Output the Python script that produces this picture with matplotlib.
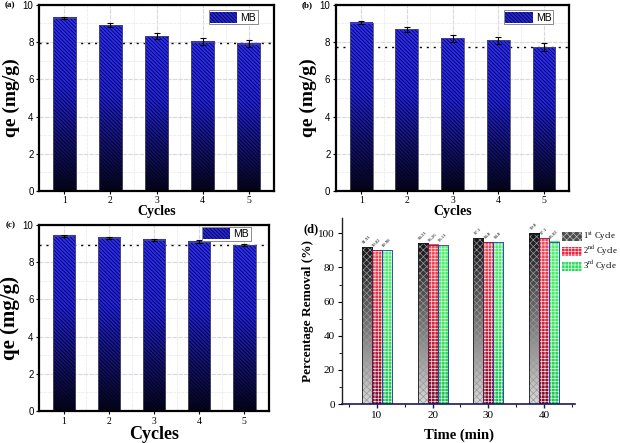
import numpy as np
import matplotlib
matplotlib.use("Agg")
import matplotlib.pyplot as plt
from matplotlib.colors import LinearSegmentedColormap
from matplotlib.patches import Patch

plt.rcParams['mathtext.fontset'] = 'stix'

# ---------------- data ----------------
cycles = [1, 2, 3, 4, 5]
qe_a = [9.30, 8.90, 8.32, 8.03, 7.92]
err_a = [0.06, 0.10, 0.16, 0.18, 0.20]
base_a = 7.93
qe_b = [9.05, 8.68, 8.20, 8.10, 7.72]
err_b = [0.08, 0.12, 0.18, 0.18, 0.22]
base_b = 7.74
qe_c = [9.42, 9.30, 9.20, 9.10, 8.92]
err_c = [0.04, 0.06, 0.07, 0.07, 0.07]
base_c = 8.93

times = [10, 20, 30, 40]
cycle_names = ["1$^{\\rm st}$ Cycle", "2$^{\\rm nd}$ Cycle", "3$^{\\rm rd}$ Cycle"]
rem1 = [91.91, 94.21, 97.1, 99.8]
rem2 = [90.02, 93.26, 94.8, 97.1]
rem3 = [89.98, 93.11, 94.8, 95.02]
lab1 = ["91.91", "94.21", "97.1", "99.8"]
lab2 = ["90.02", "93.26", "94.8", "97.1"]
lab3 = ["89.98", "93.11", "94.8", "95.02"]

SERIF = 'Liberation Serif'
SANS = 'Liberation Sans'
HATCH_B = '\\' * 9

fig = plt.figure(figsize=(6.2, 4.43), dpi=100)

blue_cmap = LinearSegmentedColormap.from_list(
    'bl', [(0.0, (0.02, 0.02, 0.08)), (0.3, (0.08, 0.08, 0.45)),
           (0.6, (0.14, 0.14, 0.9)), (1.0, (0.18, 0.18, 1.0))])


def grad_bar(ax, x, h, w, cmap, hatch, hatch_color, edge, z=2, hlw=0.6):
    grad = np.linspace(0, 1, 256).reshape(-1, 1)
    ax.imshow(grad, extent=[x - w / 2, x + w / 2, 0, h], origin='lower',
              cmap=cmap, aspect='auto', zorder=z, interpolation='bilinear')
    plt.rcParams['hatch.linewidth'] = hlw
    ax.bar(x, h, w, facecolor='none', edgecolor=hatch_color, hatch=hatch,
           linewidth=0, zorder=z + 0.1)
    ax.bar(x, h, w, facecolor='none', edgecolor=edge, linewidth=0.6,
           zorder=z + 0.2)


def qe_panel(rect, vals, errs, base, letter, lab_size, xlab_size, leg_anchor):
    ax = fig.add_axes(rect)
    ax.set_xlim(0.45, 5.55)
    ax.set_ylim(0, 10)
    for x, v in zip(cycles, vals):
        grad_bar(ax, x, v, 0.5, blue_cmap, HATCH_B, (0.0, 0.0, 0.12), (0.3, 0.3, 0.4), hlw=0.5)
    ax.errorbar(cycles, vals, yerr=errs, fmt='none', ecolor='black',
                elinewidth=0.8, capsize=2.2, capthick=0.8, zorder=5)
    ax.axhline(base, color='black', ls=(0, (1.5, 3.5)), lw=1.0, zorder=1)
    ax.set_yticks([0, 2, 4, 6, 8, 10])
    ax.set_xticks(cycles)
    ax.set_xticks([1.5, 2.5, 3.5, 4.5], minor=True)
    ax.set_yticks([1, 3, 5, 7, 9], minor=True)
    ax.grid(True, which='major', color='#d9d9d9', lw=0.8, ls=(0, (4, 1)), zorder=0)
    ax.grid(True, which='minor', color='#ececec', lw=0.6, ls=(0, (4, 1)), zorder=0)
    ax.set_axisbelow(True)
    ax.tick_params(axis='y', labelsize=7, length=2, width=0.8, direction='out', pad=2)
    ax.tick_params(axis='x', labelsize=7, length=2, width=0.8, direction='out', pad=2)
    ax.tick_params(which='minor', length=0)
    for t in ax.get_yticklabels():
        t.set_fontfamily(SANS)
    for t in ax.get_xticklabels():
        t.set_fontfamily(SERIF)
    for s in ax.spines.values():
        s.set_linewidth(1.6)
    ax.set_ylabel('qe (mg/g)', fontfamily=SERIF, fontweight='bold',
                  fontsize=lab_size, labelpad=2)
    ax.set_xlabel('Cycles', fontfamily=SERIF, fontweight='bold',
                  fontsize=xlab_size, labelpad=0)
    ax.text(-0.1, 1.0, letter, transform=ax.transAxes, fontfamily=SERIF,
            fontweight='bold', fontsize=6.5, ha='right', va='center')
    h = Patch(facecolor=(0.15, 0.15, 0.85), edgecolor=(0.0, 0.0, 0.12),
              hatch=HATCH_B, lw=0)
    leg = ax.legend([h], ['MB'], loc='upper right',
                    prop={'family': SANS, 'size': 7.5}, handlelength=2.6,
                    handleheight=1.2, borderpad=0.15, handletextpad=0.3,
                    fancybox=False, framealpha=1, edgecolor='#777777',
                    bbox_to_anchor=leg_anchor, borderaxespad=0)
    leg.get_frame().set_linewidth(0.6)
    return ax


qe_panel([0.063, 0.569, 0.379, 0.42], qe_a, err_a, base_a, '(a)', 14, 10, (0.93, 0.97))
qe_panel([0.542, 0.569, 0.376, 0.42], qe_b, err_b, base_b, '(b)', 14, 10, (0.93, 0.97))
qe_panel([0.063, 0.072, 0.371, 0.42], qe_c, err_c, base_c, '(c)', 15, 13, (0.92, 0.99))

# ---------------- panel d ----------------
axd = fig.add_axes([0.5516, 0.088, 0.376, 0.42])
axd.set_xlim(3.7, 45.6)
axd.set_ylim(0, 109)
cm1 = LinearSegmentedColormap.from_list('g1', [(0.85, 0.85, 0.85), (0.45, 0.45, 0.45), (0.08, 0.08, 0.1)])
cm2 = LinearSegmentedColormap.from_list('g2', [(0.45, 0.05, 0.2), (0.8, 0.15, 0.25), (0.95, 0.3, 0.35)])
cm3 = LinearSegmentedColormap.from_list('g3', [(0.1, 0.75, 0.35), (0.25, 0.9, 0.4), (0.3, 0.95, 0.45)])
bw = 1.8
series = [(rem1, lab1, cm1, 'xxxxx', (0.6, 0.6, 0.6), (0.1, 0.1, 0.1)),
          (rem2, lab2, cm2, '+++++', (1.0, 0.85, 0.85), (0.4, 0.1, 0.3)),
          (rem3, lab3, cm3, '+++++', (0.85, 1.0, 0.85), (0.2, 0.2, 0.8))]
for i, (vals, labs, cm, hatch, hc, ec) in enumerate(series):
    off = (i - 1) * bw
    for t, v, lb in zip(times, vals, labs):
        grad_bar(axd, t + off, v, bw, cm, hatch, hc, ec, z=2, hlw=0.5)
        axd.text(t + off, v + 1.5, lb, rotation=45, fontsize=3.4,
                 fontfamily=SERIF, ha='center', va='bottom', zorder=6)
axd.set_xticks(times)
axd.set_xticks([5, 15, 25, 35, 45], minor=True)
axd.set_yticks([0, 20, 40, 60, 80, 100])
axd.set_yticks([10, 30, 50, 70, 90], minor=True)
for s in ['top', 'right']:
    axd.spines[s].set_visible(False)
axd.spines['bottom'].set_color('#1a1a5a')
axd.spines['bottom'].set_linewidth(1.2)
axd.spines['left'].set_color('#222222')
axd.spines['left'].set_linewidth(1.0)
axd.tick_params(axis='x', labelsize=8, length=3, width=1, color='#1a1a5a', pad=2)
axd.tick_params(axis='x', which='minor', length=2, width=0.8, color='#1a1a5a')
axd.tick_params(axis='y', labelsize=8, length=3, width=0.8, pad=2)
axd.tick_params(axis='y', which='minor', length=2, width=0.6)
for t in axd.get_xticklabels() + axd.get_yticklabels():
    t.set_fontfamily(SERIF)
axd.set_ylabel('Percentage Removal (%)', fontfamily=SERIF, fontweight='bold',
               fontsize=9.5, labelpad=3)
axd.set_xlabel('Time (min)', fontfamily=SERIF, fontweight='bold',
               fontsize=10.5, labelpad=6)
axd.text(-0.165, 0.94, '(d)', transform=axd.transAxes, fontfamily=SERIF,
         fontweight='bold', fontsize=9, ha='left', va='center')

handles = [Patch(facecolor=(0.3, 0.3, 0.3), edgecolor=(0.75, 0.75, 0.75), hatch='xxxxx', lw=0),
           Patch(facecolor=(0.9, 0.15, 0.25), edgecolor=(1.0, 0.85, 0.85), hatch='+++++', lw=0),
           Patch(facecolor=(0.2, 0.85, 0.4), edgecolor=(0.85, 1.0, 0.85), hatch='+++++', lw=0)]
leg = axd.legend(handles, cycle_names, loc='upper left', bbox_to_anchor=(0.928, 0.955),
                 frameon=False, prop={'family': SERIF, 'size': 6.2},
                 handlelength=2.3, handleheight=1.3, handletextpad=0.2,
                 labelspacing=0.1, borderaxespad=0)

fig.savefig('out.png', dpi=100)
